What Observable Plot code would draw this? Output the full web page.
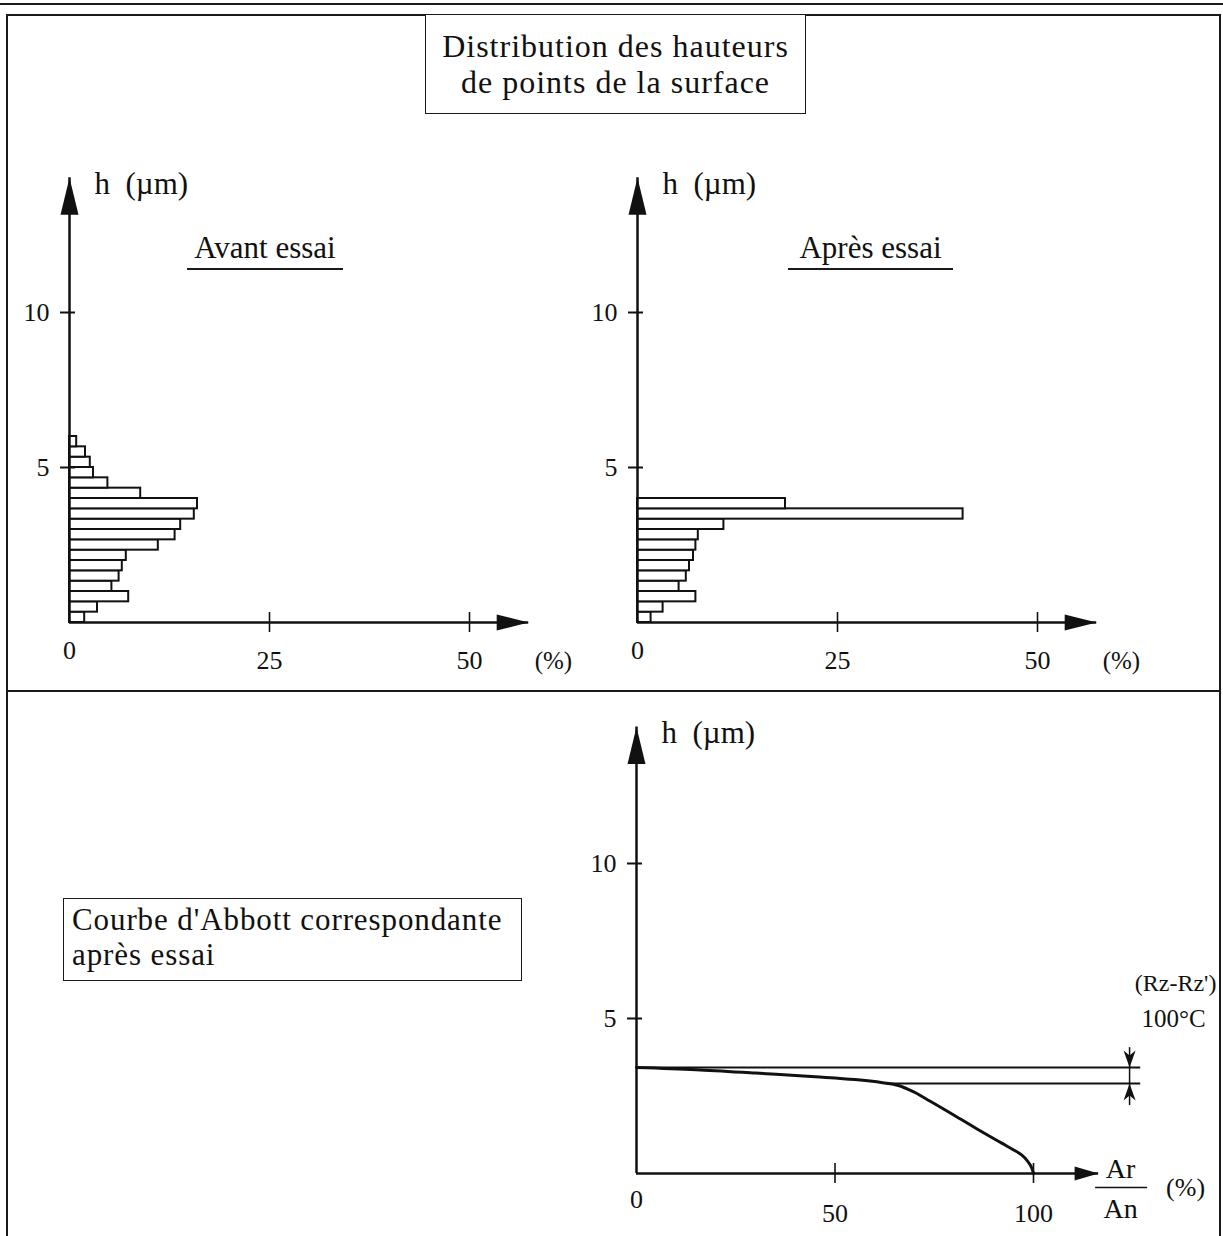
<!DOCTYPE html>
<html>
<head>
<meta charset="utf-8">
<script src="https://cdn.jsdelivr.net/npm/d3@7"></script>
<script src="https://cdn.jsdelivr.net/npm/@observablehq/plot@0.6"></script>
<style>
  html, body { margin:0; padding:0; background:#fff; }
  #page { position:relative; width:1223px; height:1236px; overflow:hidden; background:#fff;
          font-family:"Liberation Serif","Times New Roman",Times,serif; color:#111; }
  .ln { position:absolute; background:#1a1a1a; }
  .box { position:absolute; box-sizing:border-box; border:1.5px solid #1a1a1a; background:#fff; }
  .panel { position:absolute; }
  .sub { position:absolute; box-sizing:border-box; text-align:center; font-size:31px; line-height:31px;
         padding-bottom:5px; border-bottom:2px solid #1a1a1a; white-space:nowrap; }
</style>
</head>
<body>
<div id="page">
  <div class="ln" style="left:0;top:3px;width:1223px;height:1.5px"></div>
  <div class="ln" style="left:6px;top:14px;width:1215px;height:2px"></div>
  <div class="ln" style="left:6px;top:14px;width:1.5px;height:1222px"></div>
  <div class="ln" style="left:1219px;top:14px;width:1.5px;height:1222px"></div>
  <div class="ln" style="left:6px;top:690px;width:1215px;height:2px"></div>

  <div id="panelA" class="panel" style="left:0;top:150px;"></div>
  <div id="panelB" class="panel" style="left:575px;top:150px;"></div>
  <div id="panelC" class="panel" style="left:560px;top:700px;"></div>

  <div class="box" style="left:425px;top:14px;width:381px;height:100px;display:flex;flex-direction:column;justify-content:center;align-items:center;font-size:32px;line-height:36px;letter-spacing:1px;white-space:nowrap;">
    <div>Distribution des hauteurs</div>
    <div>de points de la surface</div>
  </div>
  <div class="sub" style="left:187px;top:232px;width:156px;">Avant essai</div>
  <div class="sub" style="left:788px;top:232px;width:165px;">Après essai</div>
  <div class="box" style="left:63px;top:898px;width:459px;height:83px;padding:3px 0 0 8px;font-size:31px;line-height:35px;letter-spacing:0.9px;white-space:nowrap;">
    Courbe d'Abbott correspondante<br>après essai
  </div>
</div>
<script>
// ---------------- data ----------------
const binWidth = 1 / 3;                 // µm per histogram class
// % of points per height class, from h = 0 upwards
const avantPct = [1.9, 3.5, 7.4, 5.3, 6.2, 6.6, 7.1, 11.1, 13.2, 13.9, 15.6, 16.0, 8.9, 4.8, 3.0, 2.6, 2.0, 0.9];
const apresPct = [1.7, 3.2, 7.3, 5.2, 6.1, 6.5, 7.0, 7.3, 7.6, 10.8, 40.7, 18.5];
const histYTicks = [5, 10];
const histXTicks = [0, 25, 50];
const histAxisMaxH = 14.35;
const histAxisMaxPct = 57.4;

// Abbott curve (Ar/An %, h µm)
const abbottPct = [0, 15, 30, 45, 55, 62, 66, 70, 74, 80, 86, 92, 95, 97, 98.5, 99.5, 100];
const abbottH   = [3.42, 3.35, 3.24, 3.12, 3.03, 2.93, 2.84, 2.62, 2.33, 1.88, 1.42, 0.98, 0.76, 0.6, 0.4, 0.2, 0];
const abbottYTicks = [5, 10];
const abbottXTicks = [0, 50, 100];
const abbottAxisMaxH = 14.4;
const abbottAxisMaxPct = 116.4;
const rzTop = 3.42, rzBottom = 2.90;
const rzBottomStartPct = 63, rzLineEndPct = 127, rzMarkerPct = 124.2;
const rzArrowTopH = 4.06, rzArrowBottomH = 2.19;

// ---------------- style helpers ----------------
const INK = "#111";
const FONT = '"Liberation Serif","Times New Roman",Times,serif';
const arrowUp = { draw(c) { c.moveTo(0, 0); c.lineTo(9, 37); c.lineTo(-9, 37); c.closePath(); } };
const arrowRight = { draw(c) { c.moveTo(0, 0); c.lineTo(-32, -8); c.lineTo(-32, 8); c.closePath(); } };
const arrowRightSmall = { draw(c) { c.moveTo(0, 0); c.lineTo(-24, -7); c.lineTo(-24, 7); c.closePath(); } };
const headDown = { draw(c) { c.moveTo(0, 0); c.lineTo(-6, -17); c.lineTo(0, -12); c.lineTo(6, -17); c.closePath(); } };
const headUp = { draw(c) { c.moveTo(0, 0); c.lineTo(-6, 17); c.lineTo(0, 12); c.lineTo(6, 17); c.closePath(); } };

function axisMarks({hTip, pctTip, yTicks, xTicks, xHead, zeroDy, tickDy}) {
  return [
    Plot.ruleX([0], {y1: 0, y2: hTip, stroke: INK, strokeWidth: 2.5}),
    Plot.ruleY([0], {x1: 0, x2: pctTip, stroke: INK, strokeWidth: 2.5}),
    Plot.dot([0], {x: 0, y: hTip, symbol: arrowUp, fill: INK, stroke: "none"}),
    Plot.dot([0], {x: pctTip, y: 0, symbol: xHead, fill: INK, stroke: "none"}),
    Plot.ruleY(yTicks, {x1: 0, x2: 0, insetLeft: -9, insetRight: -6, stroke: INK, strokeWidth: 2}),
    Plot.ruleX(xTicks.filter(d => d !== 0), {y1: 0, y2: 0, insetTop: -10, insetBottom: -10, stroke: INK, strokeWidth: 1.6}),
    Plot.text(yTicks, {x: 0, y: d => d, text: d => String(d), textAnchor: "end", dx: -20, fontSize: 26, fill: INK}),
    Plot.text(xTicks.filter(d => d === 0), {x: d => d, y: 0, text: d => String(d), dy: zeroDy, fontSize: 26, fill: INK}),
    Plot.text(xTicks.filter(d => d !== 0), {x: d => d, y: 0, text: d => String(d), dy: tickDy, fontSize: 26, fill: INK}),
    Plot.text(["h\u00A0\u00A0(µm)"], {x: 0, y: hTip, text: d => d, textAnchor: "start", dx: 25, dy: 6, fontSize: 31, fill: INK})
  ];
}

function histPanel(values, x0, width) {
  const bins = values.map((v, i) => ({lo: i * binWidth, hi: (i + 1) * binWidth, v}));
  return Plot.plot({
    width, height: 530,
    x: {domain: [0, 50], range: [x0, x0 + 400], axis: null},
    y: {domain: [0, 10], range: [472, 162], axis: null},
    style: {background: "transparent", overflow: "visible", fontFamily: FONT},
    marks: [
      Plot.rectX(bins, {x1: 0, x2: "v", y1: "lo", y2: "hi", fill: "white", stroke: INK, strokeWidth: 2}),
      ...axisMarks({hTip: histAxisMaxH, pctTip: histAxisMaxPct, yTicks: histYTicks, xTicks: histXTicks,
                    xHead: arrowRight, zeroDy: 28, tickDy: 38}),
      Plot.text(["(%)"], {x: histAxisMaxPct, y: 0, text: d => d, textAnchor: "start", dx: 6, dy: 38, fontSize: 25, fill: INK})
    ]
  });
}

document.getElementById("panelA").append(histPanel(avantPct, 69, 575));
document.getElementById("panelB").append(histPanel(apresPct, 62, 642));

const abbott = abbottPct.map((p, i) => ({p, h: abbottH[i]}));
const abbottPlot = Plot.plot({
  width: 658, height: 536,
  x: {domain: [0, 100], range: [76, 473], axis: null},
  y: {domain: [0, 10], range: [473, 163], axis: null},
  style: {background: "transparent", overflow: "visible", fontFamily: FONT},
  marks: [
    Plot.ruleY([rzTop], {x1: 0, x2: rzLineEndPct, stroke: INK, strokeWidth: 2}),
    Plot.ruleY([rzBottom], {x1: rzBottomStartPct, x2: rzLineEndPct, stroke: INK, strokeWidth: 2}),
    Plot.line(abbott, {x: "p", y: "h", curve: "catmull-rom", stroke: INK, strokeWidth: 3}),
    Plot.ruleX([rzMarkerPct], {y1: rzArrowTopH, y2: rzArrowBottomH, stroke: INK, strokeWidth: 1.5}),
    Plot.dot([0], {x: rzMarkerPct, y: rzTop, symbol: headDown, fill: INK, stroke: "none"}),
    Plot.dot([0], {x: rzMarkerPct, y: rzBottom, symbol: headUp, fill: INK, stroke: "none"}),
    Plot.text(["(Rz-Rz')"], {x: rzMarkerPct, y: rzTop, text: d => d, dx: 46, dy: -84, fontSize: 24, fill: INK}),
    Plot.text(["100°C"], {x: rzMarkerPct, y: rzTop, text: d => d, dx: 44, dy: -48, fontSize: 25, fill: INK}),
    ...axisMarks({hTip: abbottAxisMaxH, pctTip: abbottAxisMaxPct, yTicks: abbottYTicks, xTicks: abbottXTicks,
                  xHead: arrowRightSmall, zeroDy: 26, tickDy: 40}),
    Plot.text(["Ar"], {x: abbottAxisMaxPct, y: 0, text: d => d, dx: 22, dy: -4, fontSize: 28, fill: INK}),
    Plot.ruleY([0], {x1: abbottAxisMaxPct, x2: abbottAxisMaxPct, insetLeft: -3, insetRight: -49, dy: 14, stroke: INK, strokeWidth: 1.5}),
    Plot.text(["An"], {x: abbottAxisMaxPct, y: 0, text: d => d, dx: 22, dy: 36, fontSize: 28, fill: INK}),
    Plot.text(["(%)"], {x: abbottAxisMaxPct, y: 0, text: d => d, dx: 87, dy: 14, fontSize: 26, fill: INK})
  ]
});
document.getElementById("panelC").append(abbottPlot);
</script>
</body>
</html>
